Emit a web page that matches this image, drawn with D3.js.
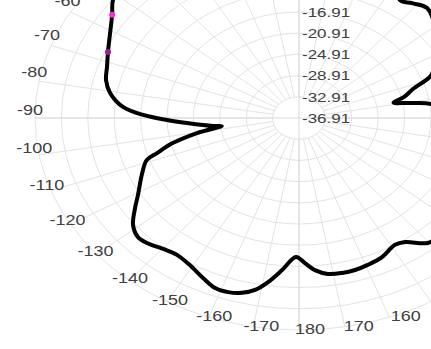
<!DOCTYPE html>
<html>
<head>
<meta charset="utf-8">
<script src="https://cdn.jsdelivr.net/npm/d3@7"></script>
<style>
  html, body { margin: 0; padding: 0; background: #fff; }
  svg { display: block; }
  text { font-family: "Liberation Sans", Arial, sans-serif; }
</style>
</head>
<body>
<svg id="chart" width="431" height="349"></svg>
<script>
// ---- data ----
const angles = [-179, -174.9, -171.4, -168.4, -165.3, -161.9, -158.4, -154.3, -149.2, -144.4,
  -140.2, -135.7, -132.6, -128.8, -124.4, -120.8, -113.9, -109, -107.1, -103.9,
  -100.4, -97.4, -96.6, -93.2, -91.1, -88.6, -85.5, -80.6, -76.2, -71.7,
  -66.7, -55.5, -51.7, -45, -35, -20, -5, 10, 20, 28,
  34.5, 38.3, 43.1, 50, 57, 63, 68, 72.4, 76, 78.5,
  80.5, 82.5, 90, 100, 110, 120, 130, 136, 140.4, 145.5,
  148.7, 154.4, 159.4, 163.5, 167.4, 171.5, 175.2, 178.1];
const gains = [-10.7, -8.1, -5.6, -3.8, -2.8, -2.35, -2.4, -3.4, -4.6, -5.15,
  -4.75, -3.95, -3.75, -4.65, -6.8, -8.5, -10.9, -12.5, -14.4, -17.2,
  -21.2, -25.1, -23.8, -19.9, -16.9, -13.3, -10.15, -7.9, -6.8, -6.27,
  -5.4, -2.55, -1.0, 0.5, 2.0, 3.09, 2.5, 0.5, -2.5, -6.5,
  -9.9, -9.3, -8.5, -10, -12, -13.8, -15.3, -18.8, -20.5, -22.3,
  -19.8, -16.7, -12, -8.5, -6.5, -5.5, -5.5, -6.0, -6.3, -8.5,
  -8.9, -7.8, -7.3, -7.0, -6.95, -7.15, -8.1, -9.5];
const markerAngles = [-55.5, -66.7];
const markerGains = [-2.55, -5.4];
const markerColors = ["#ff2bd6", "#9c1f8f"];
const radialTicks = [-36.91, -32.91, -28.91, -24.91, -20.91, -16.91, -12.91, -8.91, -4.91, -0.91, 3.09];
const angleTicks = d3.range(0, 360, 10);

// ---- layout ----
const cx = 299, cy = 118, RX = 264, RY = 212, SQ = 0.8;
const svg = d3.select("#chart");
const rX = d3.scaleLinear().domain([-36.91, 3.09]).range([0, RX]);
const rY = d3.scaleLinear().domain([-36.91, 3.09]).range([0, RY]);
const ang = d3.scaleLinear().domain([0, 360]).range([0, 2 * Math.PI]);
const px = (a, v) => cx + rX(v) * Math.sin(ang(a));
const py = (a, v) => cy - rY(v) * Math.cos(ang(a));

const grid = svg.append("g");
grid.selectAll("ellipse").data(radialTicks.slice(1)).join("ellipse")
  .attr("cx", cx).attr("cy", cy)
  .attr("rx", d => rX(d)).attr("ry", d => rY(d))
  .attr("fill", "none").attr("stroke", "#e3e3e3").attr("stroke-width", 1);
grid.selectAll("line.spoke").data(angleTicks).join("line")
  .attr("class", "spoke")
  .attr("x1", d => px(d, radialTicks[1])).attr("y1", d => py(d, radialTicks[1]))
  .attr("x2", d => px(d, radialTicks[10])).attr("y2", d => py(d, radialTicks[10]))
  .attr("stroke", "#e3e3e3").attr("stroke-width", 1);
grid.selectAll("line.axis").data([0, 90]).join("line")
  .attr("class", "axis")
  .attr("x1", d => px(d, radialTicks[10])).attr("y1", d => py(d, radialTicks[10]))
  .attr("x2", d => px(d + 180, radialTicks[10])).attr("y2", d => py(d + 180, radialTicks[10]))
  .attr("stroke", "#dadada").attr("stroke-width", 1);

// radial labels
svg.append("g").selectAll("text").data(radialTicks).join("text")
  .attr("transform", d => `translate(${cx + 3},${cy - rY(d)}) scale(1,${SQ})`)
  .attr("dy", "0.35em")
  .attr("font-size", 17).attr("fill", "#404040")
  .text(d => d.toFixed(2));

// angle labels
svg.append("g").selectAll("text").data(angleTicks).join("text")
  .attr("transform", d => `translate(${cx + 11 + (RX + 16) * Math.sin(ang(d))},${cy - 8 - (RY + 7) * Math.cos(ang(d))}) scale(1,${SQ})`)
  .attr("dy", "0.35em")
  .attr("text-anchor", "middle")
  .attr("font-size", 18).attr("fill", "#404040")
  .text(d => d > 180 ? d - 360 : d);

// pattern
const pts = angles.map((a, i) => [a, gains[i]]);
const line = d3.line()
  .x(d => px(d[0], d[1])).y(d => py(d[0], d[1]))
  .curve(d3.curveCatmullRomClosed.alpha(0.5));
svg.append("path").datum(pts)
  .attr("d", line)
  .attr("fill", "none").attr("stroke", "#000").attr("stroke-width", 4)
  .attr("stroke-linejoin", "round");

// markers
svg.append("g").selectAll("circle").data(markerAngles).join("circle")
  .attr("cx", (d, i) => px(d, markerGains[i]))
  .attr("cy", (d, i) => py(d, markerGains[i]))
  .attr("r", 3)
  .attr("fill", (d, i) => markerColors[i]);
</script>
</body>
</html>
